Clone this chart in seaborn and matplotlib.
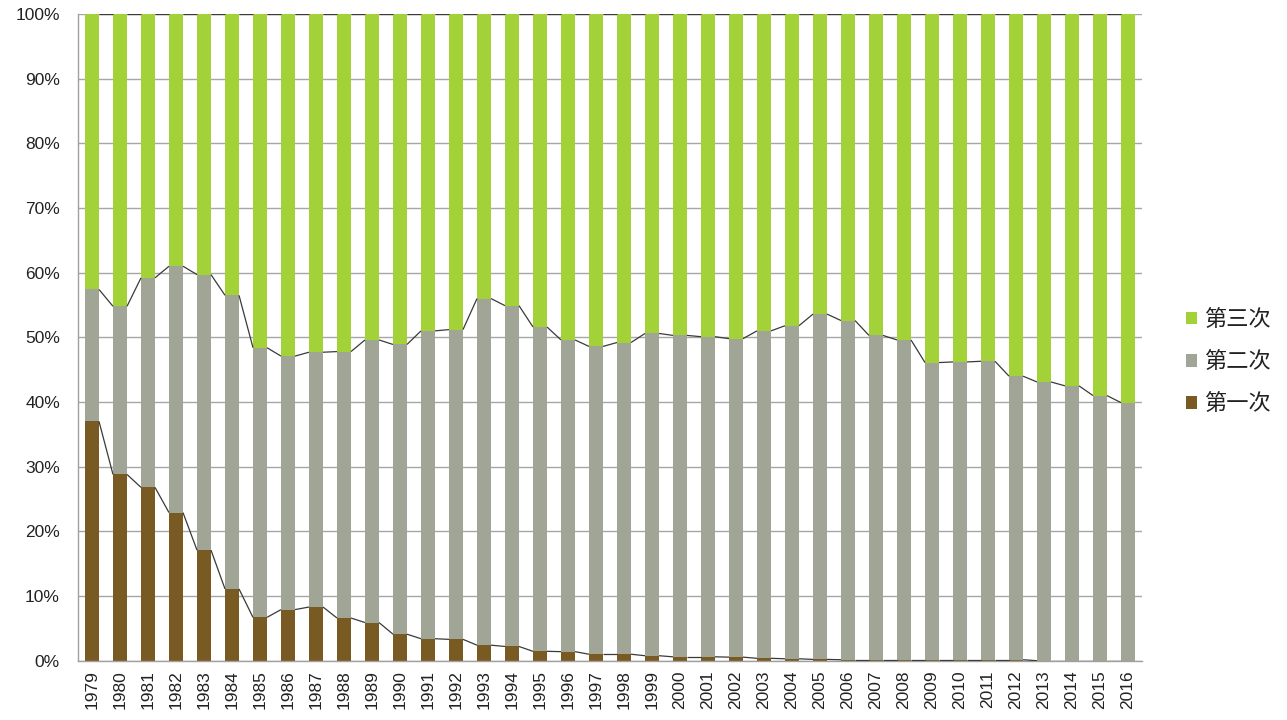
import numpy as np
import pandas as pd
import seaborn as sns
import matplotlib
matplotlib.use('Agg')
import matplotlib.pyplot as plt

years = list(range(1979, 2017))
# share of primary industry (%)
primary = [37.0, 28.8, 26.8, 22.9, 17.1, 11.1, 6.7, 7.9, 8.3, 6.6,
           5.9, 4.1, 3.4, 3.3, 2.4, 2.2, 1.45, 1.4, 1.0, 1.0,
           0.77, 0.6, 0.6, 0.55, 0.37, 0.3, 0.2, 0.15, 0.15, 0.15,
           0.15, 0.15, 0.15, 0.15, 0.0, 0.0, 0.0, 0.0]
# cumulative share primary + secondary (%)
prim_sec = [57.4, 54.8, 59.2, 61.0, 59.7, 56.5, 48.4, 47.1, 47.7, 47.8,
            49.6, 48.9, 51.0, 51.2, 56.0, 54.9, 51.6, 49.6, 48.6, 49.2,
            50.6, 50.3, 50.1, 49.8, 51.0, 51.8, 53.6, 52.6, 50.3, 49.6,
            46.1, 46.2, 46.3, 44.0, 43.1, 42.5, 41.0, 39.9]
total = [100.0] * len(years)

labels = ['第三次', '第二次', '第一次']
colors = ['#A2D237', '#A0A595', '#7A5A23']

df = pd.DataFrame({'year': [str(y) for y in years], 'primary': primary,
                   'prim_sec': prim_sec, 'total': total})

sns.set_style('white')
plt.rcParams['font.family'] = ['Liberation Sans', 'Noto Sans CJK SC', 'DejaVu Sans']

fig = plt.figure(figsize=(12.87, 7.2), dpi=100)
ax = fig.add_axes([78 / 1287, 1 - 660.7 / 720, (1142 - 78) / 1287, (660.7 - 14) / 720])

w = 0.5
for col, lab, c in zip(['total', 'prim_sec', 'primary'], labels, colors):
    sns.barplot(data=df, x='year', y=col, color=c, width=w, ax=ax,
                label=lab, saturation=1, linewidth=0, zorder=2)

# series lines between bar tops
n = len(years)
for col in ['total', 'prim_sec', 'primary']:
    v = df[col].values
    for i in range(n - 1):
        ax.plot([i + w / 2, i + 1 - w / 2], [v[i], v[i + 1]],
                color='#3a3a3a', lw=0.9, zorder=3, solid_capstyle='butt')

ax.set_xlim(-0.5, n - 0.5)
ax.set_ylim(0, 100)
ax.set_yticks(np.arange(0, 101, 10))
ax.set_yticklabels([f'{t}%' for t in range(0, 101, 10)], fontsize=12.5, color='#222222')
ax.yaxis.grid(True, color='#a6a6a6', lw=1.0, zorder=0)
ax.set_axisbelow(True)
ax.set_xlabel('')
ax.set_ylabel('')

ax.tick_params(axis='x', which='major', length=0, pad=7, labelsize=12.5,
               labelrotation=90, labelcolor='#222222')
ax.set_xticks(np.arange(-0.5, n, 1.0), minor=True)
ax.tick_params(axis='x', which='minor', length=5, color='#a0a0a0', width=1)
ax.tick_params(axis='y', length=4, color='#a0a0a0', width=1, pad=9)

for s in ['top', 'right']:
    ax.spines[s].set_visible(False)
for s in ['left', 'bottom']:
    ax.spines[s].set_color('#a0a0a0')
    ax.spines[s].set_linewidth(1)

handles, labs = ax.get_legend_handles_labels()
leg = ax.legend(handles, labs, loc='upper left', frameon=False,
                bbox_to_anchor=(1186 / 1287, 1 - 308 / 720),
                bbox_transform=fig.transFigure, borderpad=0, borderaxespad=0,
                handlelength=0.5, handleheight=0.5, handletextpad=0.3,
                labelspacing=0.86, prop={'family': ['Noto Sans CJK SC'], 'size': 16})
for t in leg.get_texts():
    t.set_color('#222222')

fig.savefig('out.png', dpi=100)
